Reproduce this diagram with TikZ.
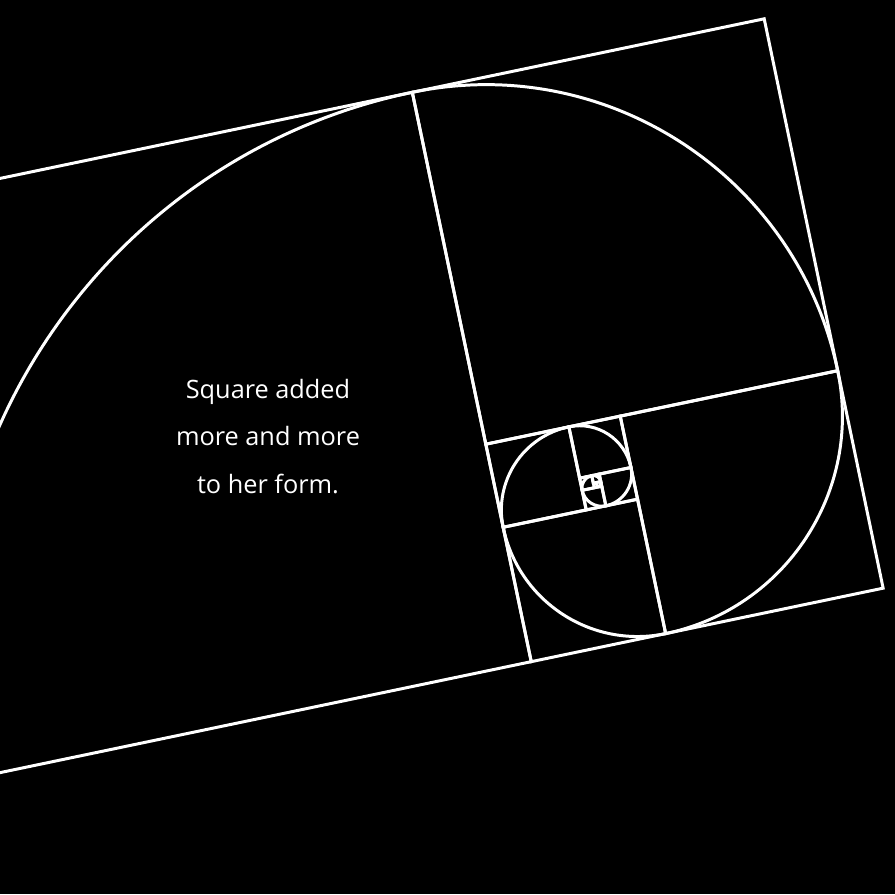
\documentclass[tikz,border=0pt]{standalone}
\usepackage{fontspec}
\setmainfont{Open Sans}
\tikzstyle{goldline} = [draw=white, line width=0.85pt]
\tikzstyle{verse} = [text=white, align=center, font=\fontsize{7.2}{13.5}\selectfont]

\begin{document}
\begin{tikzpicture}
    \useasboundingbox (0,0) rectangle (8.95,8.94);
    \fill [black] (0,0) rectangle (8.95,8.94);
    \clip (0,0) rectangle (8.95,8.94);

    % Golden rectangle: each square with its quarter arc
    \begin{scope}[shift={(4.123,8.017)}, rotate=11.8, scale=3.595]
        \xdef\cx{-1.618034}\xdef\cy{-1.618034}
        \foreach \n in {0,...,10} {
            \pgfmathsetmacro{\side}{1.618034/(1.618034^\n)}
            \pgfmathsetmacro{\diag}{45-90*\n}
            \pgfmathsetmacro{\st}{\diag+135}
            \pgfmathsetmacro{\nx}{\cx+1.414214*\side*cos(\diag)}
            \pgfmathsetmacro{\ny}{\cy+1.414214*\side*sin(\diag)}
            \draw [goldline] (\cx,\cy) rectangle (\nx,\ny);
            \draw [goldline] (\cx,\cy) arc[start angle=\st, delta angle=-90, radius=\side];
            \xdef\cx{\nx}\xdef\cy{\ny}
        }
    \end{scope}

    \node (verse) [verse] at (2.68,4.575) {Square added\\more and more\\to her form.};
\end{tikzpicture}
\end{document}
